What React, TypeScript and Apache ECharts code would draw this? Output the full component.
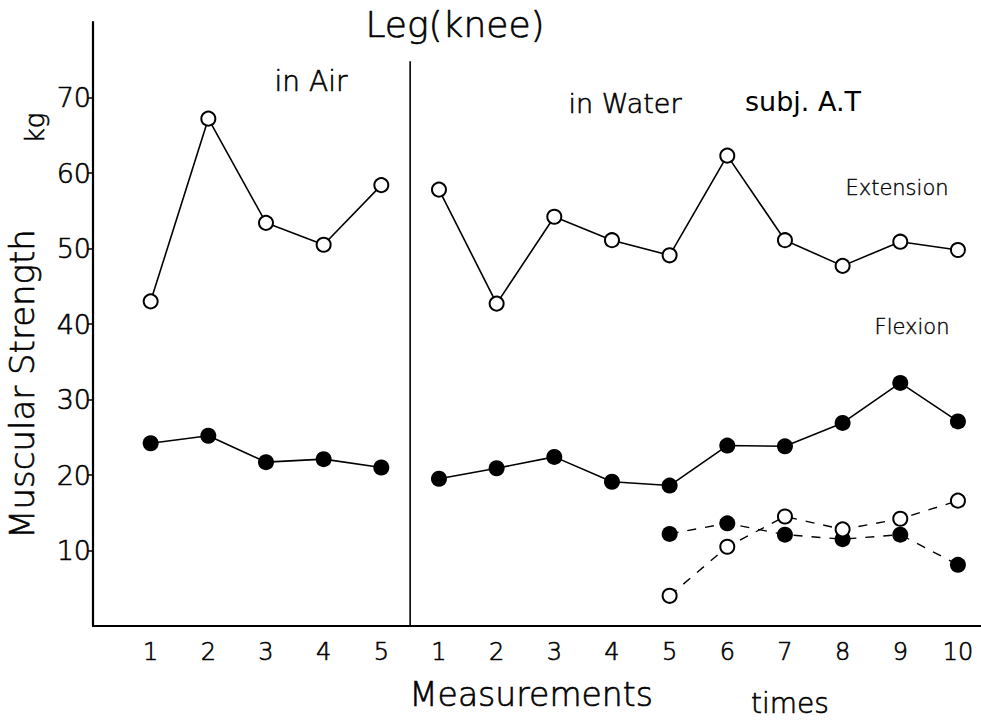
import React, { useEffect, useRef } from "react";
import * as echarts from "echarts";

// ---- data ----
const airLabels = ["1", "2", "3", "4", "5"];
const waterLabels = ["1", "2", "3", "4", "5", "6", "7", "8", "9", "10"];
const yTicks = [10, 20, 30, 40, 50, 60, 70];

const extensionAir = [43.0, 67.2, 53.4, 50.5, 58.4];
const extensionWater = [57.8, 42.7, 54.2, 51.1, 49.1, 62.3, 51.1, 47.7, 50.9, 49.8];
const flexionAir = [24.2, 25.2, 21.7, 22.1, 21.0];
const flexionWater = [19.5, 20.9, 22.4, 19.1, 18.6, 23.9, 23.8, 26.9, 32.2, 27.1];
// dashed series, water measurements 5..10
const dashedStart = 5;
const dashedFilled = [12.2, 13.6, 12.1, 11.5, 12.1, 8.1];
const dashedOpen = [4.0, 10.5, 14.5, 12.8, 14.2, 16.6];
const dividerTop = 74.8;

const FONT = '"DejaVu Sans", "Open Sans", sans-serif';

export default function App() {
  const ref = useRef<HTMLDivElement>(null);
  useEffect(() => {
    if (!ref.current) return;
    const chart = echarts.init(ref.current, undefined, { renderer: "svg" });
    const allLabels = [...airLabels, ...waterLabels];
    const airPts = (vals: number[]) => vals.map((v, i) => [i + 1, v]);
    const waterPts = (vals: number[], start = 1) =>
      vals.map((v, i) => [airLabels.length + start + i, v]);
    const dividerX = airLabels.length + 0.5;

    const openStyle = { color: "#fff", borderColor: "#000", borderWidth: 2 };
    const filledStyle = { color: "#000", borderColor: "#000", borderWidth: 0 };
    const solid = { color: "#000", width: 1.6, type: "solid" as const };
    const dashed = { color: "#000", width: 1.4, type: [9, 9] as any };

    const mk = (data: number[][], open: boolean, line: any) => ({
      type: "line",
      data,
      symbol: "circle",
      symbolSize: open ? 14 : 16,
      itemStyle: open ? openStyle : filledStyle,
      lineStyle: line,
      silent: true,
      z: open ? 3 : 2,
    });

    const text = (t: string, x: number, y: number, size: number, extra: any = {}) => ({
      type: "text",
      x,
      y,
      style: {
        text: t,
        fill: "#000",
        stroke: "#000",
        lineWidth: extra.stroke ?? 0.6,
        font: `${extra.weight || 200} ${size}px ${FONT}`,
        align: "center",
        verticalAlign: "middle",
      },
      rotation: extra.rotation || 0,
    });

    const labelCommon = {
      color: "#000",
      fontFamily: FONT,
      fontWeight: 200,
      textBorderColor: "#000",
      textBorderWidth: 0.6,
    };

    chart.setOption({
      animation: false,
      backgroundColor: "#fff",
      grid: { left: 93, right: 0, top: 22, bottom: 94 },
      xAxis: {
        type: "value",
        min: 0,
        max: 15.4,
        interval: 1,
        splitLine: { show: false },
        axisLine: { show: true, lineStyle: { color: "#000", width: 2.2 } },
        axisTick: { show: false },
        axisLabel: {
          ...labelCommon,
          fontSize: 24,
          margin: 14,
          customValues: allLabels.map((_, i) => i + 1),
          formatter: (v: number) => allLabels[Math.round(v) - 1] ?? "",
        },
      },
      yAxis: {
        type: "value",
        min: 0,
        max: 80,
        interval: 10,
        splitLine: { show: false },
        axisLine: { show: true, lineStyle: { color: "#000", width: 2.2 } },
        axisTick: {
          show: true,
          length: 5,
          lineStyle: { color: "#000", width: 1.5 },
          customValues: yTicks,
        },
        axisLabel: {
          ...labelCommon,
          fontSize: 27,
          margin: 2,
          customValues: yTicks,
        },
      },
      series: [
        {
          type: "line",
          data: [
            [dividerX, 0],
            [dividerX, dividerTop],
          ],
          symbol: "none",
          lineStyle: { color: "#000", width: 1.6 },
          silent: true,
          z: 1,
        },
        mk(airPts(extensionAir), true, solid),
        mk(waterPts(extensionWater), true, solid),
        mk(airPts(flexionAir), false, solid),
        mk(waterPts(flexionWater), false, solid),
        mk(waterPts(dashedFilled, dashedStart), false, dashed),
        mk(waterPts(dashedOpen, dashedStart), true, dashed),
      ],
      graphic: [
        text("Leg(knee)", 455, 24, 36),
        text("in Air", 311, 81, 28),
        text("in Water", 625, 103, 27),
        text("subj. A.T", 803, 101, 27, { weight: 400, stroke: 0 }),
        text("Extension", 897, 188, 21, { stroke: 0.4 }),
        text("Flexion", 912, 327, 21, { stroke: 0.4 }),
        text("Measurements", 531, 694, 33),
        text("times", 790, 703, 28),
        text("Muscular Strength", 22, 384, 34, { rotation: Math.PI / 2 }),
        text("kg", 35, 128, 26, { rotation: Math.PI / 2 }),
      ],
    });
    return () => chart.dispose();
  }, []);
  return (
    <div
      ref={ref}
      style={{ position: "absolute", left: 0, top: 0, width: 981, height: 720, background: "#fff" }}
    />
  );
}
